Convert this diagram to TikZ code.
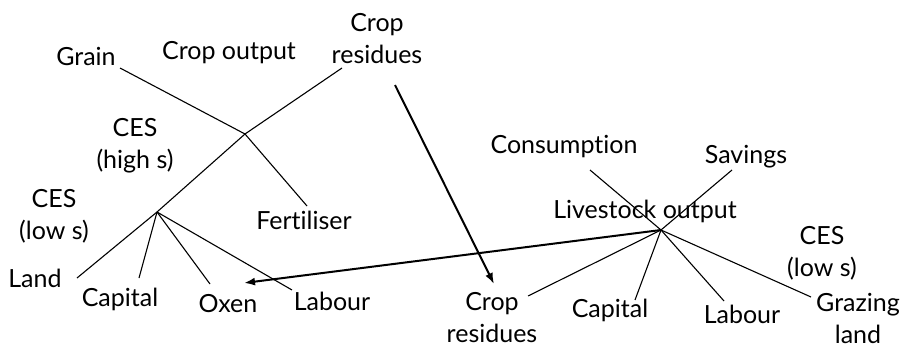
\documentclass[tikz,border=0pt]{standalone}
\usepackage{fontspec}
\setmainfont{Lato}[RawFeature={-liga}]
\usetikzlibrary{arrows.meta}
\begin{document}
\begin{tikzpicture}[x=1pt,y=-1pt,
  lbl/.style={inner sep=0pt,align=center,font=\fontsize{25}{32}\selectfont},
  branch/.style={line width=1.1pt},
  flow/.style={line width=2pt,-{Latex[length=11pt,width=8pt]}}]
\useasboundingbox[fill=white] (0,0) rectangle (910,350);
% left tree labels
\node[lbl] (grain) at (86,56) {Grain};
\node[lbl] (cropout) at (229,53) {Crop output};
\node[lbl] (cropres) at (377,39) {Crop\\residues};
\node[lbl] (ceshigh) at (135,146) {CES\\(high s)};
\node[lbl] (ceslow) at (54,216) {CES\\(low s)};
\node[lbl] (fert) at (304,220) {Fertiliser};
\node[lbl] (land) at (35,278) {Land};
\node[lbl] (capL) at (120,299) {Capital};
\node[lbl] (oxen) at (228,304) {Oxen};
\node[lbl] (labL) at (332,301) {Labour};
% right tree labels
\node[lbl] (cons) at (564,147) {Consumption};
\node[lbl] (sav) at (746,157) {Savings};
\node[lbl] (live) at (645,211) {Livestock output};
\node[lbl] (ceslowR) at (822,253) {CES\\(low s)};
\node[lbl] (cropresR) at (492,318) {Crop\\residues};
\node[lbl] (capR) at (610,310) {Capital};
\node[lbl] (labR) at (742,314) {Labour};
\node[lbl] (graz) at (858,318) {Grazing\\land};
% junctions and line ends
\coordinate (jA) at (245,134);
\coordinate (jB) at (157,212);
\coordinate (jC) at (661,230);
\coordinate (eGrain) at (120,68);
\coordinate (eRes) at (342,68);
\coordinate (eFert) at (307,206);
\coordinate (eLand) at (77,278);
\coordinate (eCapL) at (139,278);
\coordinate (eOxen) at (210,284);
\coordinate (eLabL) at (292,290);
\coordinate (eCons) at (590,170);
\coordinate (eSav) at (732,170);
\coordinate (eResR) at (528,296);
\coordinate (eCapR) at (635,300);
\coordinate (eLabR) at (724,301);
\coordinate (eGraz) at (811,297);
\coordinate (aStart) at (395,85);
\coordinate (aEnd) at (494,284);
\coordinate (oxTip) at (244,283);
% left tree
\draw[branch] (eGrain) -- (jA) -- (eFert);
\draw[branch] (eRes) -- (jA) -- (jB);
\draw[branch] (jB) -- (eLand);
\draw[branch] (jB) -- (eCapL);
\draw[branch] (jB) -- (eOxen);
\draw[branch] (jB) -- (eLabL);
% right tree
\draw[branch] (eCons) -- (jC) -- (eGraz);
\draw[branch] (eSav) -- (jC) -- (eResR);
\draw[branch] (jC) -- (eCapR);
\draw[branch] (jC) -- (eLabR);
% flows
\draw[flow] (aStart) -- (aEnd);
\draw[flow] (jC) -- (oxTip);
\end{tikzpicture}
\end{document}
